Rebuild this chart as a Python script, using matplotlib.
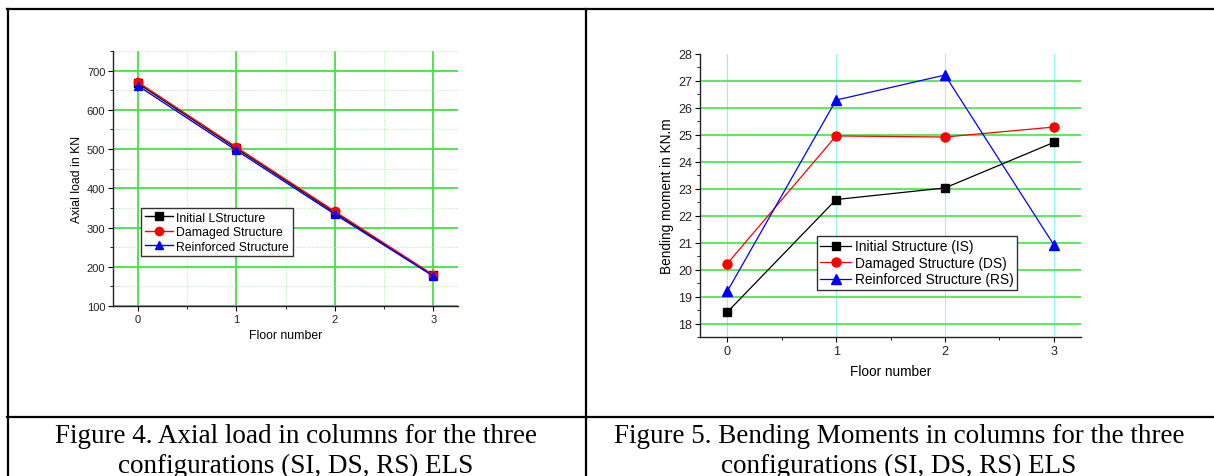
import matplotlib
matplotlib.use('Agg')
import matplotlib.pyplot as plt
from matplotlib.ticker import MultipleLocator

# Data
floors = [0, 1, 2, 3]

axial_initial = [668, 502, 338, 178]
axial_damaged = [671, 505, 341, 179]
axial_reinforced = [662, 497, 334, 176]

moment_initial = [18.42, 22.60, 23.03, 24.72]
moment_damaged = [20.22, 24.96, 24.92, 25.29]
moment_reinforced = [19.19, 26.29, 27.22, 20.92]

axial_labels = ['Initial LStructure', 'Damaged Structure', 'Reinforced Structure']
moment_labels = ['Initial Structure (IS)', 'Damaged Structure (DS)',
                 'Reinforced Structure (RS)']

caption_left = ['Figure 4. Axial load in columns for the three',
                'configurations (SI, DS, RS) ELS']
caption_right = ['Figure 5. Bending Moments in columns for the three',
                 'configurations (SI, DS, RS) ELS']

plt.rcParams['font.family'] = ['Liberation Sans', 'DejaVu Sans']

W, H = 1214, 477
fig = plt.figure(figsize=(W / 100, H / 100), dpi=100, facecolor='white')


def px_axes(x0, y0, x1, y1):
    """Axes from pixel box (left, top, right, bottom)"""
    return fig.add_axes([x0 / W, 1 - y1 / H, (x1 - x0) / W, (y1 - y0) / H])


def style_axes(ax, tick_size):
    for s in ['top', 'right']:
        ax.spines[s].set_visible(False)
    for s in ['left', 'bottom']:
        ax.spines[s].set_linewidth(1.0)
        ax.spines[s].set_color('#222222')
    ax.tick_params(which='major', direction='out', length=3.5, width=0.8,
                   labelsize=tick_size, pad=2, labelcolor='#222222')
    ax.tick_params(which='minor', direction='out', length=2, width=0.6)
    ax.set_axisbelow(True)


def style_legend(leg):
    leg.get_frame().set_edgecolor('#333333')
    leg.get_frame().set_linewidth(1.0)
    leg.get_frame().set_alpha(1)


# Table frame
line_kw = dict(color='black', linewidth=1.6, transform=fig.transFigure)
fig.add_artist(plt.Line2D([7 / W, 1], [1 - 10 / H, 1 - 10 / H], **line_kw))
fig.add_artist(plt.Line2D([7 / W, 1], [1 - 418 / H, 1 - 418 / H], **line_kw))
fig.add_artist(plt.Line2D([7.5 / W, 7.5 / W], [0, 1 - 10 / H], **line_kw))
fig.add_artist(plt.Line2D([585.5 / W, 585.5 / W], [0, 1 - 10 / H], **line_kw))

# Left chart: axial load
ax1 = px_axes(113, 52, 458, 307)
ax1.plot(floors, axial_initial, color='black', marker='s', ms=5.5, lw=1.0,
         label=axial_labels[0])
ax1.plot(floors, axial_damaged, color='red', marker='o', ms=6, lw=1.0,
         label=axial_labels[1])
ax1.plot(floors, axial_reinforced, color='blue', marker='^', ms=6, lw=1.0,
         label=axial_labels[2])
ax1.set_xlim(-0.25, 3.25)
ax1.set_ylim(100, 750)
ax1.set_xticks(floors)
ax1.set_yticks([100, 200, 300, 400, 500, 600, 700])
ax1.xaxis.set_minor_locator(MultipleLocator(0.5))
ax1.yaxis.set_minor_locator(MultipleLocator(50))
ax1.grid(which='major', color='#44e044', lw=1.3)
ax1.grid(which='minor', color='#a8f0a8', lw=0.7, ls=':')
style_axes(ax1, 8)
ax1.set_xlabel('Floor number', fontsize=8.8, labelpad=4)
ax1.set_ylabel('Axial load in KN', fontsize=8.8, labelpad=3)
leg1 = ax1.legend(loc='upper left', bbox_to_anchor=(28 / 345, 1 - 157 / 255),
                  fontsize=8.8, frameon=True, fancybox=False, borderpad=0.3,
                  labelspacing=0.2, handlelength=2.3, handletextpad=0.3,
                  borderaxespad=0)
style_legend(leg1)

# Right chart: bending moment
ax2 = px_axes(700, 55, 1081, 338)
ax2.plot(floors, moment_initial, color='black', marker='s', ms=6, lw=0.9,
         label=moment_labels[0])
ax2.plot(floors, moment_damaged, color='red', marker='o', ms=6.5, lw=0.9,
         label=moment_labels[1])
ax2.plot(floors, moment_reinforced, color='blue', marker='^', ms=6.5, lw=0.9,
         label=moment_labels[2])
ax2.set_xlim(-0.25, 3.25)
ax2.set_ylim(17.5, 28)
ax2.set_xticks(floors)
ax2.set_yticks(range(18, 29))
ax2.xaxis.set_minor_locator(MultipleLocator(0.5))
ax2.yaxis.set_minor_locator(MultipleLocator(0.5))
ax2.grid(axis='x', which='major', color='#8ff5f5', lw=0.8)
ax2.grid(axis='y', which='major', color='#4ee84e', lw=1.3)
ax2.yaxis.get_gridlines()[-1].set_visible(False)
style_axes(ax2, 9)
ax2.set_xlabel('Floor number', fontsize=9.8, labelpad=5)
ax2.set_ylabel('Bending moment in KN.m', fontsize=9.8, labelpad=3)
leg2 = ax2.legend(loc='upper left', bbox_to_anchor=(117 / 381, 1 - 182 / 283),
                  fontsize=9.9, frameon=True, fancybox=False, borderpad=0.25,
                  labelspacing=0.18, handlelength=2.2, handletextpad=0.3,
                  borderaxespad=0)
style_legend(leg2)

# Captions
cap_kw = dict(ha='center', va='baseline', fontsize=19.5,
              family='Liberation Serif', transform=fig.transFigure)
for i, (lt, rt) in enumerate(zip(caption_left, caption_right)):
    y = 1 - (443 + 30 * i) / H
    fig.text(296 / W, y, lt, **cap_kw)
    fig.text(899 / W, y, rt, **cap_kw)

fig.savefig('out.png', dpi=100, facecolor='white')
